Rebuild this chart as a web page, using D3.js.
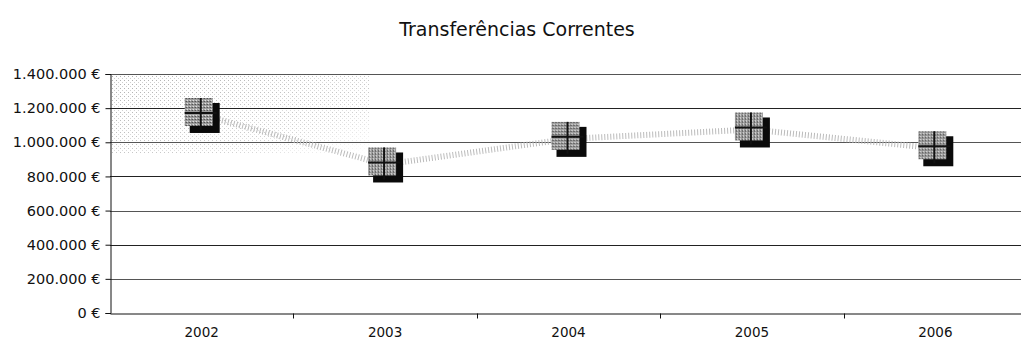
<!DOCTYPE html>
<html>
<head>
<meta charset="utf-8">
<script src="https://cdn.jsdelivr.net/npm/d3@7/dist/d3.min.js"></script>
<style>
  body { margin: 0; background: #fff; }
  text { font-family: "DejaVu Sans", sans-serif; fill: #111; }
</style>
</head>
<body>
<script>
var years = ["2002", "2003", "2004", "2005", "2006"];
var values = [1160000, 870000, 1020000, 1075000, 965000];
var yTicks = [0, 200000, 400000, 600000, 800000, 1000000, 1200000, 1400000];
var title = "Transferências Correntes";

var w = 1021,
    h = 349,
    plotLeft = 110,
    plotRight = 1027,
    plotTop = 74,
    plotBottom = 313;

var svg = d3.select("body").append("svg")
    .attr("width", w)
    .attr("height", h);

var defs = svg.append("defs");

// halftone look of the scanned markers and line
var pat = defs.append("pattern")
    .attr("id", "dots")
    .attr("width", 3).attr("height", 3)
    .attr("patternUnits", "userSpaceOnUse");
pat.append("rect").attr("width", 3).attr("height", 3).attr("fill", "#9a9a9a");
pat.append("rect").attr("width", 1).attr("height", 1).attr("fill", "#fff");
pat.append("rect").attr("x", 2).attr("y", 1).attr("width", 1).attr("height", 1).attr("fill", "#333");

var stip = defs.append("pattern")
    .attr("id", "stipple")
    .attr("width", 4).attr("height", 4)
    .attr("patternUnits", "userSpaceOnUse");
stip.append("rect").attr("width", 1).attr("height", 1).attr("fill", "#777");
stip.append("rect").attr("x", 2).attr("y", 2).attr("width", 1).attr("height", 1).attr("fill", "#aaa");

var fade = defs.append("linearGradient").attr("id", "fade")
    .attr("x1", 0).attr("y1", 0).attr("x2", 1).attr("y2", 1);
fade.append("stop").attr("offset", "0%").attr("stop-color", "#fff").attr("stop-opacity", 1);
fade.append("stop").attr("offset", "70%").attr("stop-color", "#fff").attr("stop-opacity", 0.6);
fade.append("stop").attr("offset", "100%").attr("stop-color", "#fff").attr("stop-opacity", 0);
var mask = defs.append("mask").attr("id", "fadeMask");
mask.append("rect")
    .attr("x", plotLeft).attr("y", plotTop)
    .attr("width", 260).attr("height", 80)
    .attr("fill", "url(#fade)");

var x = d3.scaleBand()
    .domain(years)
    .range([plotLeft, plotRight]);

var y = d3.scaleLinear()
    .domain([0, 1400000])
    .range([plotBottom, plotTop]);

var euro = function (d) {
    return d3.format(",")(d).replace(/,/g, ".") + " €";
};

svg.append("text")
    .attr("x", 517)
    .attr("y", 36)
    .attr("text-anchor", "middle")
    .style("font-size", "19px")
    .text(title);

// scanner shading in the upper left of the plot
svg.append("rect")
    .attr("x", plotLeft + 1).attr("y", plotTop + 1)
    .attr("width", 260).attr("height", 80)
    .attr("fill", "url(#stipple)")
    .attr("mask", "url(#fadeMask)")
    .attr("opacity", 0.6);

// gridlines
svg.append("g")
    .selectAll("line")
    .data(yTicks.filter(function (d) { return d > 0; }))
    .enter().append("line")
    .attr("x1", plotLeft).attr("x2", plotRight)
    .attr("y1", function (d) { return Math.round(y(d)) + 0.5; })
    .attr("y2", function (d) { return Math.round(y(d)) + 0.5; })
    .attr("stroke", function (d, i) { return i % 2 ? "#222" : "#555"; })
    .attr("stroke-width", 1);

// y axis
var yAxis = svg.append("g")
    .attr("transform", "translate(" + (plotLeft + 0.5) + ",0)")
    .call(d3.axisLeft(y).tickValues(yTicks).tickSize(5).tickPadding(5).tickFormat(euro));
yAxis.selectAll("text").style("font-size", "14.5px");
yAxis.select(".domain").attr("stroke", "#111");
yAxis.selectAll(".tick line").attr("stroke", "#111");

// x axis
var xAxis = svg.append("g")
    .attr("transform", "translate(0," + (plotBottom + 0.5) + ")")
    .call(d3.axisBottom(x).tickSize(0).tickPadding(14));
xAxis.selectAll("text").style("font-size", "13.5px");
xAxis.select(".domain").attr("stroke", "#111");

xAxis.selectAll(".sep")
    .data(years.slice(1))
    .enter().append("line")
    .attr("class", "sep")
    .attr("x1", function (d) { return Math.round(x(d)) + 0.5; })
    .attr("x2", function (d) { return Math.round(x(d)) + 0.5; })
    .attr("y1", 0).attr("y2", 5)
    .attr("stroke", "#111");

// series line
var line = d3.line()
    .x(function (d, i) { return x(years[i]) + x.bandwidth() / 2; })
    .y(function (d) { return y(d); });

svg.append("path")
    .datum(values)
    .attr("d", line)
    .attr("fill", "none")
    .attr("stroke", "#bbb")
    .attr("stroke-width", 6)
    .attr("stroke-dasharray", "1,2");

// markers
var m = svg.append("g")
    .selectAll("g")
    .data(values)
    .enter().append("g")
    .attr("transform", function (d, i) {
        return "translate(" + (x(years[i]) + x.bandwidth() / 2) + "," + y(d) + ")";
    });

m.append("rect")
    .attr("x", -12).attr("y", -12)
    .attr("width", 30).attr("height", 30)
    .attr("fill", "#0a0a0a");

m.append("rect")
    .attr("x", -17).attr("y", -17)
    .attr("width", 28).attr("height", 28)
    .attr("fill", "url(#dots)");

m.append("line")
    .attr("x1", -17).attr("x2", 15)
    .attr("y1", -2).attr("y2", -2)
    .attr("stroke", "#111").attr("stroke-width", 2);
m.append("line")
    .attr("x1", -1).attr("x2", -1)
    .attr("y1", -17).attr("y2", 15)
    .attr("stroke", "#111").attr("stroke-width", 2);
</script>
</body>
</html>
